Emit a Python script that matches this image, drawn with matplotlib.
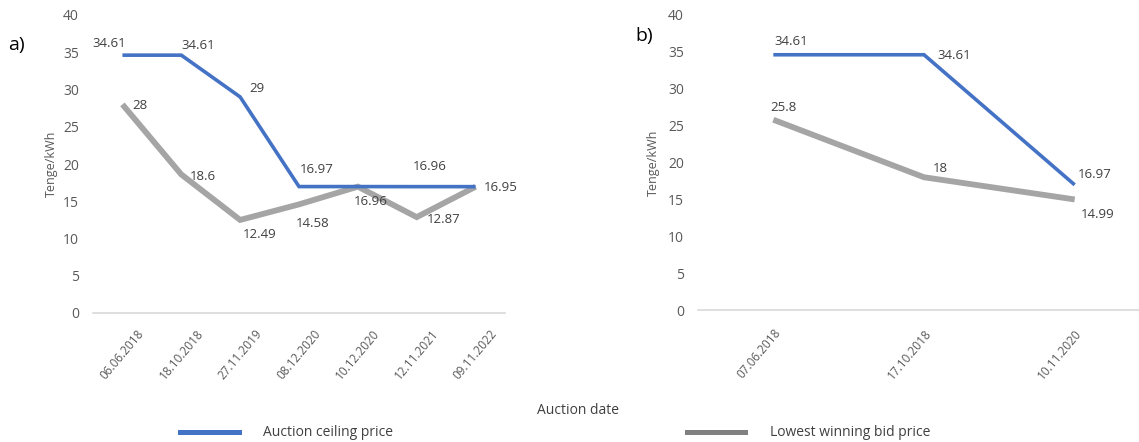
import matplotlib
matplotlib.use("Agg")
import matplotlib.pyplot as plt
from matplotlib.patches import Rectangle

plt.rcParams['font.family'] = ['Open Sans', 'DejaVu Sans']

# ---- data ----
dates_a = ["06.06.2018", "18.10.2018", "27.11.2019", "08.12.2020", "10.12.2020", "12.11.2021", "09.11.2022"]
ceiling_a = [34.61, 34.61, 29, 16.97, 16.97, 16.96, 16.96]
lowest_a = [28, 18.6, 12.49, 14.58, 16.96, 12.87, 16.95]
show_ceiling_a = [True, True, True, True, False, True, False]
show_lowest_a = [True, True, True, True, True, True, True]

dates_b = ["07.06.2018", "17.10.2018", "10.11.2020"]
ceiling_b = [34.61, 34.61, 16.97]
lowest_b = [25.8, 18, 14.99]

yticks = [0, 5, 10, 15, 20, 25, 30, 35, 40]
series_names = ["Auction ceiling price", "Lowest winning bid price"]

# ---- styles ----
W, H = 1139, 442
BLUE = "#4472C4"
GRAY = "#A5A5A5"
TXT = "#404040"
TICK = "#595959"

off_ceil_a = [(-13, 12), (17, 10), (17, 8), (18, 17), (0, 0), (13, 20), (0, 0)]
off_low_a = [(17, -1), (22, -2), (20, -15), (14, -19), (13, -15), (27, -2), (25, -1)]
off_ceil_b = [(18, 13), (30, -1), (20, 10)]
off_low_b = [(10, 12), (16, 9), (23, -15)]

fig = plt.figure(figsize=(W / 100, H / 100), dpi=100)


def fx(px):
    return px / W


def fy(py):
    return 1 - py / H


def style_axes(ax, cats, ha, mode):
    ax.set_ylim(0, 40)
    ax.set_yticks(yticks)
    ax.set_xlim(-0.5, len(cats) - 0.5)
    ax.set_xticks(range(len(cats)))
    ax.set_xticklabels(cats, rotation=50, ha=ha, rotation_mode=mode,
                       fontsize=8.5, color=TICK)
    ax.tick_params(axis="both", length=0)
    ax.tick_params(axis="y", labelsize=10, labelcolor=TICK, pad=10)
    for s in ["top", "right", "left"]:
        ax.spines[s].set_visible(False)
    ax.spines["bottom"].set_color("#D9D9D9")
    ax.spines["bottom"].set_linewidth(1.2)
    ax.set_facecolor("none")


def label(ax, xs, vals, offs, show=None):
    for i, (x, v) in enumerate(zip(xs, vals)):
        if show is not None and not show[i]:
            continue
        ax.annotate(f"{v:g}", (x, v), xytext=offs[i], textcoords="offset pixels",
                    ha="center", va="center", fontsize=9.5, color=TXT)


# ---- panel a ----
axa = fig.add_axes([fx(93), fy(313), fx(505 - 93), (313 - 15) / H])
style_axes(axa, dates_a, "center", "default")
axa.tick_params(axis="x", pad=10)
xa = list(range(len(dates_a)))
axa.plot(xa, lowest_a, color=GRAY, lw=4.2, solid_capstyle="butt", solid_joinstyle="miter")
axa.plot(xa, ceiling_a, color=BLUE, lw=2.6, solid_capstyle="butt", solid_joinstyle="miter")
label(axa, xa, ceiling_a, off_ceil_a, show_ceiling_a)
label(axa, xa, lowest_a, off_low_a, show_lowest_a)
axa.set_ylabel("Tenge/kWh", fontsize=9, color=TICK, labelpad=4)

# ---- panel b ----
axb = fig.add_axes([fx(698), fy(310), fx(1150 - 698), (310 - 15) / H])
style_axes(axb, dates_b, "right", "anchor")
axb.tick_params(axis="x", pad=12)
xb = list(range(len(dates_b)))
axb.plot(xb, lowest_b, color=GRAY, lw=4.2, solid_capstyle="butt", solid_joinstyle="miter")
axb.plot(xb, ceiling_b, color=BLUE, lw=2.6, solid_capstyle="butt", solid_joinstyle="miter")
label(axb, xb, ceiling_b, off_ceil_b)
label(axb, xb, lowest_b, off_low_b)
axb.set_ylabel("Tenge/kWh", fontsize=9, color=TICK, labelpad=6)

# ---- panel letters ----
fig.text(fx(8), fy(45), "a)", fontsize=14, color="#000000", va="center", ha="left")
fig.text(fx(635), fy(36), "b)", fontsize=14, color="#000000", va="center", ha="left")

# ---- x-axis title & legend ----
fig.text(fx(578), fy(410), "Auction date", fontsize=10, color=TXT, ha="center", va="center")
fig.patches.append(Rectangle((fx(178), fy(435)), fx(64), 5 / H, transform=fig.transFigure,
                             facecolor=BLUE, edgecolor="none"))
fig.text(fx(263), fy(432), series_names[0], fontsize=10, color=TXT, ha="left", va="center")
fig.patches.append(Rectangle((fx(685), fy(435)), fx(63), 5 / H, transform=fig.transFigure,
                             facecolor="#808080", edgecolor="none"))
fig.text(fx(770), fy(432), series_names[1], fontsize=10, color=TXT, ha="left", va="center")

fig.savefig("out.png", dpi=100)
